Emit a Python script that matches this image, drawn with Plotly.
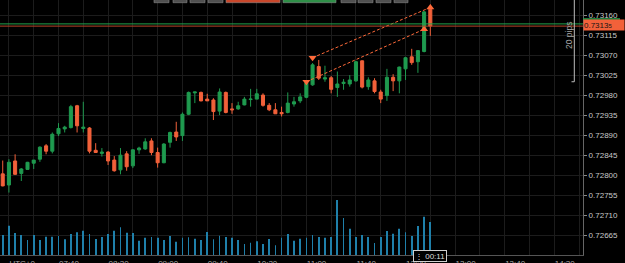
import plotly.graph_objects as go
import pandas as pd

# ---------------- data ----------------
day = "2020-06-15"
candle_start = f"{day} 06:55"          # first 5-minute candle
n_candles = 70

open_ = [0.72803,0.72778,0.72832,0.72804,0.72813,0.72827,0.72836,0.72866,0.72854,0.72893,
         0.72904,0.72907,0.72956,0.72905,0.72906,0.72856,0.72849,0.72852,0.72834,0.72812,
         0.72848,0.72821,0.72857,0.72859,0.72877,0.72851,0.72828,0.72874,0.72897,0.72889,
         0.72937,0.72985,0.72986,0.72971,0.72969,0.72944,0.72986,0.72949,0.72949,0.72958,
         0.72970,0.72971,0.72980,0.72957,0.72947,0.72941,0.72941,0.72960,0.72967,0.72975,
         0.73003,0.73044,0.73016,0.73019,0.72997,0.73006,0.73005,0.73012,0.73057,0.72999,
         0.73012,0.72987,0.72979,0.73020,0.73012,0.73039,0.73066,0.73055,0.73078,0.73173]
high = [0.72833,0.72836,0.72847,0.72816,0.72830,0.72834,0.72865,0.72870,0.72896,0.72917,
        0.72911,0.72958,0.72958,0.72965,0.72908,0.72872,0.72861,0.72854,0.72843,0.72861,
        0.72854,0.72858,0.72864,0.72883,0.72883,0.72862,0.72872,0.72898,0.72920,0.72941,
        0.72988,0.72987,0.72988,0.72983,0.72973,0.72995,0.72988,0.72962,0.72965,0.72976,
        0.72994,0.72994,0.72984,0.72962,0.72962,0.72954,0.72986,0.72976,0.72984,0.73008,
        0.73052,0.73059,0.73046,0.73023,0.73033,0.73016,0.73025,0.73057,0.73058,0.73020,
        0.73018,0.72992,0.73039,0.73027,0.73044,0.73066,0.73084,0.73081,0.73169,0.73183]
low = [0.72775,0.72761,0.72801,0.72787,0.72812,0.72814,0.72830,0.72847,0.72849,0.72888,
       0.72896,0.72905,0.72896,0.72896,0.72849,0.72850,0.72842,0.72823,0.72808,0.72802,
       0.72810,0.72816,0.72848,0.72857,0.72845,0.72817,0.72827,0.72862,0.72877,0.72877,
       0.72935,0.72962,0.72966,0.72967,0.72924,0.72935,0.72939,0.72938,0.72947,0.72957,
       0.72954,0.72971,0.72954,0.72944,0.72938,0.72932,0.72939,0.72954,0.72962,0.72973,
       0.73001,0.73014,0.73010,0.72984,0.72976,0.72992,0.72999,0.73010,0.72995,0.72992,
       0.72984,0.72962,0.72967,0.72989,0.72984,0.73014,0.73048,0.73030,0.73076,0.73113]
close = [0.72776,0.72829,0.72802,0.72814,0.72829,0.72834,0.72863,0.72854,0.72892,0.72905,
         0.72908,0.72954,0.72911,0.72908,0.72854,0.72851,0.72852,0.72832,0.72810,0.72845,
         0.72819,0.72857,0.72861,0.72875,0.72851,0.72828,0.72870,0.72896,0.72886,0.72937,
         0.72986,0.72987,0.72967,0.72967,0.72943,0.72987,0.72941,0.72947,0.72956,0.72971,
         0.72971,0.72983,0.72957,0.72947,0.72938,0.72938,0.72962,0.72965,0.72976,0.73007,
         0.73048,0.73018,0.73019,0.72993,0.73005,0.73009,0.73014,0.73055,0.72998,0.73014,
         0.72988,0.72971,0.73020,0.73012,0.73043,0.73064,0.73053,0.73080,0.73167,0.73135]
volume = [200,293,220,200,150,200,150,183,183,190,
          157,210,227,243,210,160,180,210,243,277,
          223,220,143,173,180,173,150,190,133,173,
          177,163,150,230,157,193,180,173,150,110,
          123,137,110,160,97,173,210,143,163,173,
          200,180,173,180,550,370,263,180,200,180,
          120,180,240,213,263,227,190,290,383,330]

# channel drawn on chart (entry / exit)
trade_entry_time = ["11:00", "11:05"]
trade_entry_price = [0.73010, 0.73064]
trade_exit_time = ["12:35", "12:40"]
trade_exit_price = [0.73128, 0.73177]

bid_price = 0.73135
ask_price = 0.73140
pips_base = 0.73010
pips_size = 20
countdown = "00:11"

y_tick_labels = ["0.72665","0.72710","0.72755","0.72800","0.72845","0.72890",
                 "0.72935","0.72980","0.73025","0.73070","0.73115","0.73160"]
x_tick_labels = ["UTC+0","07:40","08:20","09:00","09:40","10:20",
                 "11:00","11:40","12:20","13:00","13:40","14:20"]

# ---------------- figure ----------------
GREEN = "#1f9a4f"
RED = "#f2613a"
ORANGE = "#ff6a3a"
VOL = "#1f80aa"
GRID = "#1c1c1c"

times = pd.date_range(candle_start, periods=n_candles, freq="5min")
grid_times = pd.date_range(f"{day} 07:00", periods=2 * len(x_tick_labels), freq="20min")
grid_text = []
for i in range(len(grid_times)):
    grid_text.append(x_tick_labels[i // 2] if i % 2 == 0 else "")

y_range = [0.726207, 0.731937]

fig = go.Figure()

fig.add_trace(go.Bar(
    x=times, y=volume, yaxis="y2", width=36000,
    marker=dict(color=VOL, line=dict(width=0)), hoverinfo="skip"))

fig.add_trace(go.Candlestick(
    x=times, open=open_, high=high, low=low, close=close,
    increasing=dict(line=dict(color=GREEN, width=1), fillcolor=GREEN),
    decreasing=dict(line=dict(color=RED, width=1), fillcolor=RED),
    whiskerwidth=0))

for i in range(len(trade_entry_time)):
    t0 = pd.Timestamp(f"{day} {trade_entry_time[i]}")
    t1 = pd.Timestamp(f"{day} {trade_exit_time[i]}")
    fig.add_trace(go.Scatter(
        x=[t0, t1], y=[trade_entry_price[i], trade_exit_price[i]], mode="lines",
        line=dict(color=ORANGE, width=1, dash="3px,2px"), hoverinfo="skip"))
    fig.add_trace(go.Scatter(
        x=[t0], y=[trade_entry_price[i]], mode="markers",
        marker=dict(symbol="triangle-down", size=7, color=ORANGE), hoverinfo="skip"))
    fig.add_trace(go.Scatter(
        x=[t1], y=[trade_exit_price[i]], mode="markers",
        marker=dict(symbol="triangle-up", size=7, color=ORANGE), hoverinfo="skip"))

W, H = 583.0, 255.0
def px_x(p):
    return p / W
def px_y(p):
    return 1 - p / H

shapes = []
# bid / ask lines
shapes.append(dict(type="line", xref="paper", yref="y", x0=0, x1=1, y0=ask_price, y1=ask_price,
                   line=dict(color="#23a34c", width=1)))
shapes.append(dict(type="line", xref="paper", yref="y", x0=0, x1=1, y0=bid_price, y1=bid_price,
                   line=dict(color="#b8452a", width=1)))
# 20 pips bracket
shapes.append(dict(type="line", xref="paper", yref="y", x0=px_x(574.3), x1=px_x(574.3),
                   y0=pips_base, y1=pips_base + pips_size * 0.0001,
                   line=dict(color="#bdbdbd", width=1)))
shapes.append(dict(type="line", xref="paper", yref="y", x0=px_x(571.5), x1=px_x(574.3),
                   y0=pips_base, y1=pips_base, line=dict(color="#bdbdbd", width=1)))
# toolbar buttons (partially visible at top)
buttons = [(154, 169, "#505050"), (173, 187, "#505050"), (190, 205, "#505050"), (208, 223, "#505050"),
           (226, 280, "#c9472b"), (283, 336, "#2f8f48"),
           (341, 356, "#505050"), (358, 373, "#505050"), (376, 391, "#505050"), (394, 408, "#505050")]
for x0, x1, c in buttons:
    shapes.append(dict(type="rect", xref="paper", yref="paper", x0=px_x(x0), x1=px_x(x1),
                       y0=px_y(2.7), y1=px_y(-8), fillcolor=c, line=dict(color="#8a8a8a", width=0.6)))
# green strip above price label
shapes.append(dict(type="rect", xref="paper", yref="paper", x0=1, x1=px_x(620),
                   y0=px_y(19.8), y1=px_y(18.2), fillcolor="#23a34c", line=dict(width=0)))

bid_txt = f"{bid_price:.5f}"
annotations = [
    dict(text="20 pips", textangle=-90, xref="paper", yref="paper", x=px_x(569), y=px_y(36),
         xanchor="center", yanchor="middle",
         showarrow=False, font=dict(size=8.5, color="#a8a8a8")),
    dict(text=bid_txt[:-1] + "<span style='font-size:6px'>" + bid_txt[-1] + "</span>",
         xref="paper", yref="y", x=1, y=bid_price, xanchor="left", yanchor="middle",
         showarrow=False, bgcolor=RED, width=40, height=10, align="left", borderpad=0,
         font=dict(size=8, color="#151515"), yshift=1),
    dict(text="⋮ " + countdown, xref="x", yref="paper", x=times[-1], y=px_y(255.7),
         xanchor="center", yanchor="middle", showarrow=False, bgcolor="#000",
         bordercolor="#cfcfcf", borderwidth=1, borderpad=1, height=8,
         font=dict(size=8, color="#dcdcdc")),
]

fig.update_layout(
    width=625, height=263,
    margin=dict(l=0, r=42, t=0, b=8),
    paper_bgcolor="#000", plot_bgcolor="#000",
    showlegend=False,
    font=dict(family="Liberation Sans", size=8, color="#b0b0b0"),
    shapes=shapes, annotations=annotations,
    xaxis=dict(type="date", range=[f"{day} 06:52:48", f"{day} 14:43:12"],
               tickvals=grid_times, ticktext=grid_text,
               ticklabelposition="outside right",
               showgrid=True, gridcolor=GRID, gridwidth=1,
               showline=True, linecolor="#555", linewidth=1,
               ticks="", zeroline=False, automargin=False,
               rangeslider=dict(visible=False),
               tickfont=dict(size=8, color="#a8a8a8")),
    yaxis=dict(side="right", range=y_range,
               tickvals=[float(v) for v in y_tick_labels], ticktext=y_tick_labels,
               showgrid=True, gridcolor=GRID, gridwidth=1,
               ticks="outside", ticklen=3, tickcolor="#888",
               showline=True, linecolor="#666", linewidth=1,
               zeroline=False, automargin=False,
               tickfont=dict(size=8, color="#c8c8c8")),
    yaxis2=dict(overlaying="y", range=[0, 2550], visible=False, fixedrange=True),
)

fig.write_html("out.html")
